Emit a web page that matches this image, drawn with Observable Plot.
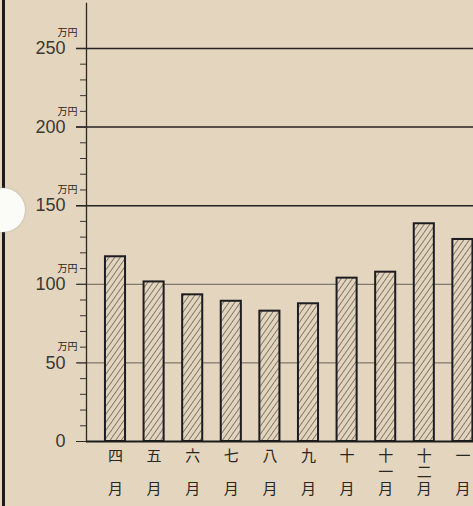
<!DOCTYPE html>
<html><head><meta charset="utf-8">
<script src="https://cdn.jsdelivr.net/npm/d3@7"></script>
<script src="https://cdn.jsdelivr.net/npm/@observablehq/plot@0.6"></script>
<style>
html,body{margin:0;padding:0;background:#e3d5be;}
#wrap{position:relative;width:473px;height:506px;overflow:hidden;background:#e3d5be;}
#wrap svg{display:block;}
#wrap::before{content:"";position:absolute;left:2px;top:0;width:3px;height:506px;background:#1a1a1e;z-index:1;}
#wrap::after{content:"";position:absolute;left:-19px;top:188px;width:44px;height:44px;border-radius:50%;background:#fbfbf8;box-shadow:0 0 2px #aaa;z-index:2;}
</style></head><body><div id="wrap"></div>
<script>
const months = ["四","五","六","七","八","九","十","十一","十二","一"];
const amounts = [117.5, 101.5, 93.3, 89.2, 82.9, 87.6, 103.9, 107.7, 138.5, 128.5];
const majorTicks = [0, 50, 100, 150, 200, 250];
const minorTicks = [10,20,30,40,60,70,80,90,110,120,130,140,160,170,180,190,210,220,230,240];
const unitTicks = [60, 110, 160, 210, 260];
const unitLabel = "万円";
const monthSuffix = "月";
const strongGrid = [150, 200, 250];
const lightGrid = [50, 100];

const data = months.map((m, i) => ({month: m, amount: amounts[i]}));
const cjk = "'Noto Sans CJK JP', sans-serif";
const ink = "#2a2622";
// vertical label: month numeral (one or two characters), then 月 on the third line
const verticalLabel = d => {
  const chars = d.month.split("");
  while (chars.length < 2) chars.push("");
  return [...chars, monthSuffix].join("\n");
};

const chart = Plot.plot({
  width: 473, height: 506,
  marginTop: 3, marginBottom: 65, marginLeft: 86, marginRight: 0,
  style: {background: "transparent", fontFamily: "'Liberation Sans', sans-serif", color: "#34302c"},
  x: {type: "band", domain: months, range: [95.7, 481.7], paddingInner: 0.48, paddingOuter: 0.24, round: false, axis: null},
  y: {domain: [0, 278.6], axis: null},
  marks: [
    Plot.ruleY(lightGrid, {stroke: "#4a4540", strokeWidth: 0.8, insetLeft: -9}),
    Plot.ruleY(strongGrid, {stroke: "#242222", strokeWidth: 1.4, insetLeft: -10}),
    Plot.axisY(minorTicks, {tickSize: 6, tickFormat: () => "", label: null, stroke: "#3a3632", strokeWidth: 1}),
    Plot.axisY(majorTicks, {tickSize: 10, tickFormat: () => "", label: null, stroke: "#2a2a2a", strokeWidth: 1}),
    Plot.text(majorTicks, {y: d => d, text: d => String(d), frameAnchor: "left", dx: -21, textAnchor: "end", fontSize: 18, fill: "#3c3834"}),
    Plot.text(unitTicks, {y: d => d, text: () => unitLabel, frameAnchor: "left", dx: -9, textAnchor: "end", fontSize: 10, fontFamily: cjk, fill: ink}),
    Plot.barY(data, {x: "month", y: "amount", fill: "url(#hatch)", stroke: "#1c1c22", strokeWidth: 2, clip: true}),
    Plot.ruleY([0], {stroke: "#1c1c1c", strokeWidth: 2}),
    Plot.frame({anchor: "left", stroke: "#2a2a2a", strokeWidth: 1.3}),
    Plot.text(data, {x: "month", text: verticalLabel, frameAnchor: "bottom", lineAnchor: "top", dy: 7, lineHeight: 1.13, fontSize: 15, fontFamily: cjk, fill: ink})
  ]
});

const defs = d3.select(chart).insert("defs", ":first-child");
const s = 4.6;
const pat = defs.append("pattern").attr("id", "hatch").attr("patternUnits", "userSpaceOnUse")
  .attr("width", s).attr("height", s).attr("patternTransform", "rotate(35)");
pat.append("rect").attr("width", s).attr("height", s).attr("fill", "#e2d4bd");
pat.append("line").attr("x1", s/2).attr("y1", 0).attr("x2", s/2).attr("y2", s)
  .attr("stroke", "#6e655c").attr("stroke-width", 0.8);

document.getElementById("wrap").appendChild(chart);
</script>
</body></html>
